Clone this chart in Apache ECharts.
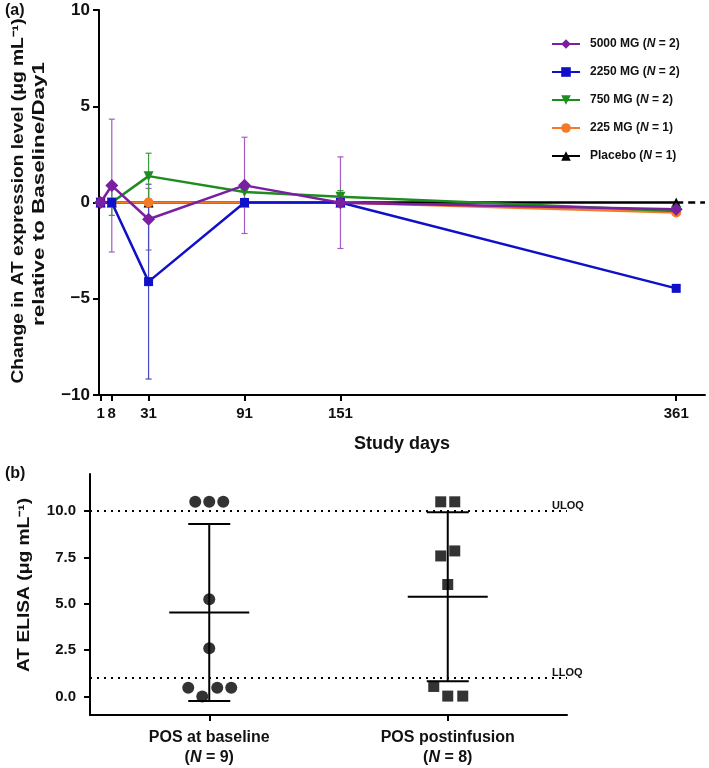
<!DOCTYPE html>
<html>
<head>
<meta charset="utf-8">
<script src="https://cdn.jsdelivr.net/npm/echarts@6/dist/echarts.min.js"></script>
<style>
html,body{margin:0;padding:0;background:#fff;}
#chart{width:709px;height:768px;}
</style>
</head>
<body>
<div id="chart"></div>
<script>
// ---------- Panel (a) data ----------
const days = [1, 8, 31, 91, 151, 361];
const dayTicks = [1, 8, 31, 91, 151, 361];
const yTicksA = [-10, -5, 0, 5, 10];
const groupNames = ['5000 MG', '2250 MG', '750 MG', '225 MG', 'Placebo'];
const groupN = [2, 2, 2, 1, 1];
const mean5000 = [0, 0.88, -0.87, 0.89, -0.01, -0.35];
const sd5000   = [0, 3.45, 1.60, 2.50, 2.38, 0];
const mean2250 = [0, 0, -4.11, 0, 0, -4.46];
const sd2250   = [0, 0, 5.06, 0, 0, 0];
const mean750  = [0, 0, 1.37, 0.55, 0.30, -0.44];
const sd750    = [0, 0.67, 1.19, 0, 0.32, 0];
const mean225  = [0, 0, 0, 0, 0, -0.52];
const meanPlacebo = [0, 0, 0, 0, 0, 0];

// ---------- Panel (b) data ----------
const categoriesB = ['POS at baseline', 'POS postinfusion'];
const categoriesN = [9, 8];
const baselineVals = [10.5, 10.5, 10.5, 5.25, 2.6, 0.47, 0.47, 0.47, 0];
const postVals = [10.5, 10.5, 7.85, 7.58, 6.04, 0.54, 0.02, 0.02];
const groupMeans = [4.53, 5.38];
const groupSDs = [4.77, 4.56];
const yTicksB = [0, 2.5, 5, 7.5, 10];
const uloq = 10;
const lloq = 1;

// styles (horizontal jitter of overlapping points, in px)
const baselineJitter = [-14, 0, 14, 0, 0, -21, 8, 22, -7];
const postJitter = [-7, 7, 7, -7, 0, -14, 0, 15];

const FONT = '"Liberation Sans", Arial, sans-serif';
const colors = {
  '5000 MG': '#7B1FA2', '2250 MG': '#1010C8', '750 MG': '#1E8C1E',
  '225 MG': '#F57A28', 'Placebo': '#000000'
};
const barColors = {
  '5000 MG': '#A45CC0', '2250 MG': '#4848C0', '750 MG': '#3C9C3C', '225 MG': '#F59A60'
};
const X_MAX = 379;

function pairs(m) { return days.map((d, i) => [d, m[i]]); }
function bars(m, s) {
  const out = [];
  days.forEach((d, i) => { if (s[i] > 0) out.push([d, m[i] - s[i], m[i] + s[i]]); });
  return out;
}
function errRender(color) {
  return function (params, api) {
    const x = api.value(0), lo = api.value(1), hi = api.value(2);
    const p1 = api.coord([x, hi]), p2 = api.coord([x, lo]);
    const w = 3;
    const st = { stroke: color, lineWidth: 1.2 };
    return { type: 'group', children: [
      { type: 'line', shape: { x1: p1[0], y1: p1[1], x2: p2[0], y2: p2[1] }, style: st },
      { type: 'line', shape: { x1: p1[0] - w, y1: p1[1], x2: p1[0] + w, y2: p1[1] }, style: st },
      { type: 'line', shape: { x1: p2[0] - w, y1: p2[1], x2: p2[0] + w, y2: p2[1] }, style: st }
    ]};
  };
}
function meanSdRender(params, api) {
  const c = api.value(0), m = api.value(1), s = api.value(2);
  const pm = api.coord([c, m]), pt = api.coord([c, m + s]), pb = api.coord([c, m - s]);
  const st = { stroke: '#000', lineWidth: 2 };
  return { type: 'group', children: [
    { type: 'line', shape: { x1: pt[0], y1: pt[1], x2: pb[0], y2: pb[1] }, style: st },
    { type: 'line', shape: { x1: pt[0] - 21, y1: pt[1], x2: pt[0] + 21, y2: pt[1] }, style: st },
    { type: 'line', shape: { x1: pb[0] - 21, y1: pb[1], x2: pb[0] + 21, y2: pb[1] }, style: st },
    { type: 'line', shape: { x1: pm[0] - 40, y1: pm[1], x2: pm[0] + 40, y2: pm[1] }, style: st }
  ]};
}

const lineSeries = [
  { name: 'Placebo', data: pairs(meanPlacebo), symbol: 'triangle', symbolSize: 10, rot: 0 },
  { name: '225 MG', data: pairs(mean225), symbol: 'circle', symbolSize: 10, rot: 0 },
  { name: '750 MG', data: pairs(mean750), symbol: 'triangle', symbolSize: 10, rot: 180 },
  { name: '2250 MG', data: pairs(mean2250), symbol: 'rect', symbolSize: 9, rot: 0 },
  { name: '5000 MG', data: pairs(mean5000), symbol: 'diamond', symbolSize: 13, rot: 0 }
].map((s, k) => ({
  type: 'line', name: s.name, xAxisIndex: 0, yAxisIndex: 0, data: s.data,
  symbol: s.symbol, symbolSize: s.symbolSize, symbolRotate: s.rot, showAllSymbol: true,
  itemStyle: { color: colors[s.name] }, lineStyle: { color: colors[s.name], width: 2.5 },
  z: 10 + k, animation: false,
  markLine: s.name === 'Placebo' ? {
    silent: true, symbol: 'none', label: { show: false },
    lineStyle: { color: '#000', type: [7, 5], width: 2.5 },
    data: [[{ coord: [361, 0] }, { coord: [X_MAX, 0] }]]
  } : undefined
}));

const errSeries = [
  ['5000 MG', bars(mean5000, sd5000)],
  ['2250 MG', bars(mean2250, sd2250)],
  ['750 MG', bars(mean750, sd750)]
].map(([n, d]) => ({
  type: 'custom', xAxisIndex: 0, yAxisIndex: 0, data: d, z: 5,
  renderItem: errRender(barColors[n]), animation: false, silent: true
}));

const chart = echarts.init(document.getElementById('chart'), null, { renderer: 'canvas' });
const axisLineStyle = { color: '#000', width: 2 };
chart.setOption({
  backgroundColor: '#fff',
  animation: false,
  textStyle: { fontFamily: FONT },
  grid: [
    { left: 99, top: 10, width: 606, height: 385 },
    { left: 90, top: 474, width: 477, height: 241 }
  ],
  legend: {
    orient: 'vertical', left: 546, top: 33, itemGap: 16, itemWidth: 28, itemHeight: 12,
    data: groupNames,
    formatter: (name) => name + ' ({i|N} = ' + groupN[groupNames.indexOf(name)] + ')',
    textStyle: { fontFamily: FONT, fontWeight: 'bold', fontSize: 12, color: '#111', padding: [0, 0, 0, 5],
      rich: { i: { fontFamily: FONT, fontStyle: 'italic', fontWeight: 'bold', fontSize: 12, color: '#111' } } }
  },
  xAxis: [
    {
      type: 'value', gridIndex: 0, min: 0, max: X_MAX,
      axisLine: { show: true, onZero: false, lineStyle: axisLineStyle },
      axisTick: { show: true, length: 6, lineStyle: axisLineStyle, customValues: dayTicks },
      axisLabel: { customValues: dayTicks, fontFamily: FONT, fontWeight: 'bold', fontSize: 15, color: '#111', margin: 11 },
      splitLine: { show: false },
      name: 'Study days', nameLocation: 'middle', nameGap: 40,
      nameTextStyle: { fontFamily: FONT, fontWeight: 'bold', fontSize: 18, color: '#111' }
    },
    {
      type: 'category', gridIndex: 1, data: categoriesB, boundaryGap: true,
      axisLine: { show: true, onZero: false, lineStyle: axisLineStyle },
      axisTick: { show: true, alignWithLabel: true, length: 6, lineStyle: axisLineStyle },
      axisLabel: {
        margin: 13, color: '#111', fontFamily: FONT, fontWeight: 'bold', fontSize: 16, lineHeight: 20,
        formatter: (v, i) => v + '\n({i|N} = ' + categoriesN[i] + ')',
        rich: { i: { fontFamily: FONT, fontStyle: 'italic', fontWeight: 'bold', fontSize: 16, color: '#111', lineHeight: 20 } }
      },
      splitLine: { show: false }
    }
  ],
  yAxis: [
    {
      type: 'value', gridIndex: 0, min: -10, max: 10, interval: 5,
      axisLine: { show: true, onZero: false, lineStyle: axisLineStyle },
      axisTick: { show: true, length: 6, lineStyle: axisLineStyle },
      axisLabel: { fontFamily: FONT, fontWeight: 'bold', fontSize: 17, color: '#111', margin: 9,
        formatter: (v) => String(v).replace('-', '\u2212') },
      splitLine: { show: false }
    },
    {
      type: 'value', gridIndex: 1, min: -1, max: 12,
      axisLine: { show: true, onZero: false, lineStyle: axisLineStyle },
      axisTick: { show: true, length: 6, lineStyle: axisLineStyle, customValues: yTicksB },
      axisLabel: { customValues: yTicksB, fontFamily: FONT, fontWeight: 'bold', fontSize: 15, color: '#111', margin: 14,
        formatter: (v) => v.toFixed(1) },
      splitLine: { show: false }
    }
  ],
  graphic: [
    { type: 'text', left: 5, top: 3, style: { text: '(a)', font: 'bold 16px ' + FONT, fill: '#111' } },
    { type: 'text', left: 5, top: 466, style: { text: '(b)', font: 'bold 16px ' + FONT, fill: '#111' } },
    { type: 'text', x: 19, y: 201, rotation: Math.PI / 2, scaleX: 1.2,
      style: { text: 'Change in AT expression level (\u03bcg mL\u207b\u00b9)', font: 'bold 16px ' + FONT, fill: '#111', align: 'center', verticalAlign: 'middle' } },
    { type: 'text', x: 40, y: 194, rotation: Math.PI / 2, scaleX: 1.4,
      style: { text: 'relative to Baseline/Day1', font: 'bold 16px ' + FONT, fill: '#111', align: 'center', verticalAlign: 'middle' } },
    { type: 'text', x: 25, y: 585, rotation: Math.PI / 2, scaleX: 1.2,
      style: { text: 'AT ELISA (\u03bcg mL\u207b\u00b9)', font: 'bold 16px ' + FONT, fill: '#111', align: 'center', verticalAlign: 'middle' } }
  ],
  series: [
    ...errSeries,
    ...lineSeries,
    {
      type: 'scatter', xAxisIndex: 1, yAxisIndex: 1, name: 'baseline',
      symbol: 'circle', symbolSize: 12, itemStyle: { color: '#000' }, z: 10,
      data: baselineVals.map((v, i) => ({ value: [0, v], symbolOffset: [baselineJitter[i], 0] })),
      markLine: {
        silent: true, symbol: 'none',
        lineStyle: { color: '#000', type: [2, 5], width: 2 },
        label: { show: true, position: 'end', formatter: '{b}', fontFamily: FONT, fontSize: 11, fontWeight: 'bold', color: '#111', offset: [-20, -5] },
        data: [{ yAxis: uloq, name: 'ULOQ' }, { yAxis: lloq, name: 'LLOQ' }]
      }
    },
    {
      type: 'scatter', xAxisIndex: 1, yAxisIndex: 1, name: 'post',
      symbol: 'rect', symbolSize: 11, itemStyle: { color: '#000' }, z: 10,
      data: postVals.map((v, i) => ({ value: [1, v], symbolOffset: [postJitter[i], 0] }))
    },
    {
      type: 'custom', xAxisIndex: 1, yAxisIndex: 1, z: 8, silent: true,
      data: groupMeans.map((m, i) => [i, m, groupSDs[i]]),
      renderItem: meanSdRender
    }
  ]
});
</script>
</body>
</html>
